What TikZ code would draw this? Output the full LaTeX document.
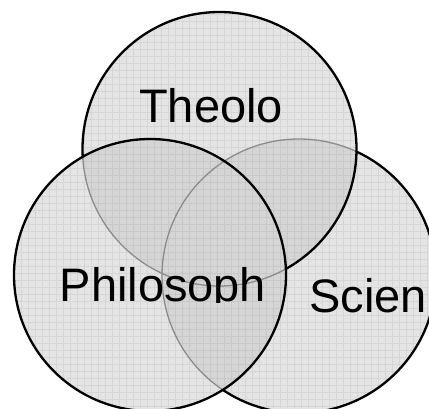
\documentclass[tikz,border=0pt]{standalone}
\usepackage{fontspec}
\setmainfont{Liberation Sans}
\definecolor{singlefill}{HTML}{E4E4E4}
\definecolor{doublefill}{HTML}{D5D5D5}
\definecolor{triplefill}{HTML}{CDCDCD}
\definecolor{coveredline}{HTML}{8C8C8C}
\tikzset{
  outline/.style={draw=black, line width=2.3pt},
  covered/.style={draw=coveredline, line width=1.3pt},
  label/.style={font=\fontsize{47}{52}\selectfont, inner sep=0pt, anchor=base west},
  texture/.style={draw=black, opacity=0.06, line width=0.8pt}
}
\begin{document}
\begin{tikzpicture}[x=1pt,y=-1pt]
\useasboundingbox (0,0) rectangle (429,408);
\coordinate (T) at (219.5,149);
\coordinate (L) at (150,275);
\coordinate (R) at (299,276);
\def\rT{137}\def\rL{136}\def\rR{137}
% single fills
\fill[singlefill] (T) circle[radius=\rT];
\fill[singlefill] (L) circle[radius=\rL];
\fill[singlefill] (R) circle[radius=\rR];
% pairwise overlaps
\begin{scope}
  \clip (T) circle[radius=\rT];
  \fill[doublefill] (L) circle[radius=\rL];
  \fill[doublefill] (R) circle[radius=\rR];
  \clip (L) circle[radius=\rL];
  \fill[triplefill] (R) circle[radius=\rR];
\end{scope}
\begin{scope}
  \clip (L) circle[radius=\rL];
  \fill[doublefill] (R) circle[radius=\rR];
\end{scope}
% texture
\begin{scope}
  \clip (T) circle[radius=\rT] (L) circle[radius=\rL] (R) circle[radius=\rR];
  \draw[texture] (0,0) grid[step=7pt] (429,408);
\end{scope}
% right circle: black outside top and left, grey inside them
\begin{scope}[even odd rule]
  \clip (-30,-30) rectangle (460,440) (T) circle[radius=\rT];
  \clip (-30,-30) rectangle (460,440) (L) circle[radius=\rL];
  \draw[outline] (R) circle[radius=\rR];
\end{scope}
\begin{scope}
  \clip (T) circle[radius=\rT] (L) circle[radius=\rL];
  \draw[covered] (R) circle[radius=\rR];
\end{scope}
% top circle: black outside left, grey inside it
\begin{scope}[even odd rule]
  \clip (-30,-30) rectangle (460,440) (L) circle[radius=\rL];
  \draw[outline] (T) circle[radius=\rT];
\end{scope}
\begin{scope}
  \clip (L) circle[radius=\rL];
  \draw[covered] (T) circle[radius=\rT];
\end{scope}
% left circle on top
\draw[outline] (L) circle[radius=\rL];
% labels
\node[label] (theo) at (139,122) {Theolo};
\begin{scope}
  \clip (0,0) rectangle (429,302.5);
  \node[label] (phil) at (59.5,301) {Philosoph};
\end{scope}
\node[label] (scie) at (309,312) {Scien};
\end{tikzpicture}
\end{document}
